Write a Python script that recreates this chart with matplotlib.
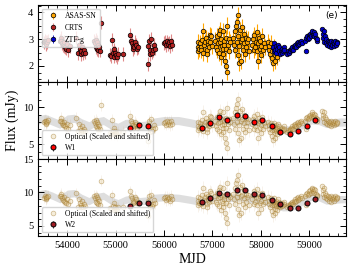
import matplotlib
matplotlib.use("Agg")
import matplotlib.pyplot as plt
import matplotlib.ticker as tkr
import numpy as np

plt.rcParams["font.family"] = ["Liberation Serif", "DejaVu Serif"]
plt.rcParams["mathtext.fontset"] = "stix"

# ---- top panel: optical light curves (MJD, flux in mJy) ----
crts_mjd = [53520, 53540, 53555, 53565, 53570, 53585, 53600,
            53850, 53870, 53880, 53890, 53910, 53930, 53940, 53950, 53970, 53990, 54010, 54060,
            54190,
            54230, 54250, 54270, 54280, 54290, 54300, 54320, 54340, 54360,
            54560, 54575, 54590, 54600, 54615, 54620, 54630, 54645, 54660, 54680, 54700,
            54890, 54910, 54930, 54950, 54960, 54970, 54990, 55010, 55030, 55050,
            55160,
            55300, 55320, 55340, 55350, 55360, 55380, 55400, 55420, 55440, 55460,
            55660, 55680, 55700, 55705, 55720, 55740, 55760, 55780, 55800, 55820,
            56000, 56020, 56040, 56060, 56080, 56100, 56120, 56140, 56160]
crts_flux = [2.88, 2.95, 2.85, 2.82, 2.92, 2.90, 2.96,
             2.95, 3.05, 2.95, 2.85, 2.78, 2.90, 2.75, 2.70, 2.65, 2.82, 2.60, 2.75,
             3.06,
             2.48, 2.80, 2.65, 2.45, 2.55, 2.72, 2.48, 2.58, 2.50,
             2.95, 2.85, 2.70, 2.98, 2.62, 2.90, 2.80, 2.60, 2.72, 2.57, 3.62,
             2.42, 2.38, 2.98, 2.50, 2.62, 2.35, 2.48, 2.40, 2.33, 2.45,
             2.45,
             3.15, 2.95, 2.85, 2.62, 2.75, 2.70, 2.90, 2.80, 2.65, 2.70,
             2.08, 2.75, 2.95, 2.45, 2.60, 3.00, 2.50, 2.58, 2.78, 2.65,
             2.85, 2.90, 2.78, 2.92, 2.82, 2.88, 2.75, 2.95, 2.80]

asas_mjd = [56700, 56705, 56712, 56725, 56740, 56760, 56770, 56780, 56800, 56810, 56830, 56850,
            56870, 56880, 56890, 56900, 56920, 56940, 56950, 56960, 56980, 57000,
            57060, 57075, 57090, 57100, 57115, 57130, 57140, 57150, 57155, 57170, 57185, 57200,
            57210, 57215, 57230, 57245, 57250, 57260, 57275, 57285, 57290, 57295, 57305, 57320,
            57335, 57350, 57365,
            57430, 57445, 57460, 57475, 57490, 57500, 57505, 57520, 57525, 57540, 57555, 57560,
            57570, 57585, 57600, 57610, 57615, 57630, 57645, 57660, 57675, 57690, 57705, 57720,
            57740, 57755,
            57820, 57840, 57855, 57870, 57885, 57900, 57915, 57930, 57945, 57950, 57960, 57975,
            57990, 58000, 58005, 58020, 58040, 58060, 58080,
            58150, 58165, 58180, 58195, 58210, 58225, 58240, 58255, 58270, 58285, 58300, 58320,
            58340, 58380]
asas_flux = [2.72, 2.55, 2.90, 2.62, 2.85, 2.70, 2.58, 2.98, 3.32, 2.50, 2.78, 2.90,
             3.05, 2.60, 2.45, 2.82, 2.95, 2.70, 3.15, 2.88, 3.10, 2.75,
             2.95, 2.70, 3.10, 2.60, 2.85, 3.20, 2.50, 3.35, 2.90, 3.00, 2.35, 2.75,
             2.45, 3.30, 2.65, 2.95, 2.80, 2.20, 3.05, 2.00, 2.62, 1.77, 3.51, 2.80,
             3.00, 2.55, 2.90,
             3.05, 2.80, 3.30, 2.60, 3.50, 3.65, 2.90, 2.40, 3.89, 3.10, 2.75, 2.10,
             3.35, 2.95, 2.20, 3.45, 3.00, 2.60, 3.20, 2.85, 2.45, 3.05, 2.70, 2.90,
             3.00, 2.55,
             2.80, 3.00, 2.60, 3.15, 2.70, 2.90, 3.25, 2.55, 2.85, 2.20, 3.05, 2.65,
             2.95, 2.40, 2.75, 3.10, 2.60, 2.85, 2.70,
             2.90, 2.60, 2.75, 2.45, 2.85, 2.30, 2.55, 2.10, 2.70, 2.40, 2.20, 2.60,
             2.35, 2.50]

ztf_mjd = [58250, 58265, 58280, 58295, 58310, 58325, 58340, 58355, 58370, 58385, 58400, 58415,
           58430, 58445, 58460, 58475, 58490,
           58550, 58565, 58580, 58595, 58610, 58625, 58640, 58655, 58670, 58685, 58700, 58715,
           58730, 58745, 58760, 58775, 58790, 58810, 58830, 58850,
           58920, 58935, 58945, 58960, 58975, 58990, 59005, 59020, 59035, 59050, 59065, 59080,
           59095, 59110, 59125, 59140, 59155, 59170,
           59270, 59280, 59295, 59300, 59310, 59325, 59340, 59355, 59370, 59385, 59400, 59415,
           59430, 59445, 59460, 59475, 59490, 59505, 59520, 59535, 59550, 59565, 59580]
ztf_flux = [2.70, 2.55, 2.85, 2.60, 2.75, 2.50, 2.65, 2.80, 2.55, 2.70, 2.45, 2.60,
            2.50, 2.65, 2.55, 2.70, 2.60,
            2.45, 2.55, 2.50, 2.60, 2.55, 2.65, 2.60, 2.70, 2.60, 2.75, 2.70, 2.80,
            2.72, 2.85, 2.78, 2.90, 2.82, 2.88, 2.95, 2.85,
            2.95, 3.05, 2.57, 3.10, 3.00, 3.15, 3.05, 3.20, 3.10, 3.25, 3.30, 3.15,
            3.25, 3.10, 3.20, 3.05, 2.95, 3.00,
            3.38, 3.20, 3.05, 3.30, 2.90, 3.10, 2.85, 3.00, 2.80, 2.95, 2.75, 2.90,
            2.85, 2.70, 2.95, 2.80, 2.90, 2.75, 2.85, 2.95, 2.80, 2.90, 2.85]

crts_err, asas_err, ztf_err = 0.25, 0.3, 0.05

# ---- WISE points ----
w1_mjd = [55300, 55490, 55670, 56780, 56955, 57140, 57305, 57500, 57670, 57865,
          58035, 58240, 58400, 58600, 58765, 58965, 59130]
w1_flux = [7.16, 7.60, 7.50, 7.16, 7.84, 8.65, 8.34, 8.92, 8.88, 7.97,
           8.34, 7.43, 6.67, 6.40, 6.76, 7.43, 8.34]
w2_mjd = w1_mjd
w2_flux = [8.03, 8.48, 8.38, 8.64, 9.14, 9.90, 9.80, 10.30, 10.30, 9.75,
           9.65, 8.83, 8.23, 7.62, 7.73, 8.38, 9.10]

# optical scaled and shifted onto W1 / W2 (scale, shift)
w1_scale, w1_shift = 3.13, -1.04
w2_scale, w2_shift = 3.41, -0.58

# ---- model band (centre, half width) ----
band_mjd = [53400, 53550, 53700, 53850, 54000, 54150, 54300, 54450, 54600, 54750,
            54900, 55050, 55200, 55350, 55500, 55650, 55800, 56000, 56300, 56550,
            56750, 56900, 57050, 57200, 57400, 57600, 57800, 58000, 58150, 58300,
            58450, 58600, 58750, 58900, 59050, 59200, 59350, 59500, 59650, 59750]
band_w1 = [8.3, 8.5, 8.1, 7.7, 8.4, 8.5, 7.9, 7.5, 8.0, 8.2,
           7.6, 7.3, 7.8, 7.9, 7.5, 7.6, 8.0, 8.2, 8.2, 7.9,
           7.6, 7.8, 8.2, 8.3, 8.1, 8.2, 8.0, 8.0, 7.7, 7.3,
           7.0, 6.9, 7.2, 7.8, 8.3, 8.2, 7.8, 7.9, 8.0, 8.0]
band_w2 = [9.7, 9.9, 9.5, 9.0, 9.8, 9.9, 9.2, 8.7, 9.3, 9.5,
           8.8, 8.4, 8.9, 9.1, 8.7, 8.8, 9.2, 9.3, 9.2, 8.9,
           8.6, 8.8, 9.3, 9.4, 9.2, 9.3, 9.0, 8.9, 8.5, 8.1,
           7.8, 7.8, 8.1, 8.8, 9.4, 9.3, 8.8, 8.9, 9.0, 9.0]
band_half = 0.55

fig = plt.figure(figsize=(3.53, 2.70), dpi=100)
gs = fig.add_gridspec(3, 1, left=0.108, right=0.980, top=0.981, bottom=0.126, hspace=0)
ax1 = fig.add_subplot(gs[0])
ax2 = fig.add_subplot(gs[1], sharex=ax1)
ax3 = fig.add_subplot(gs[2], sharex=ax1)

ms = 3.3
ax1.errorbar(asas_mjd, asas_flux, yerr=asas_err, fmt="o", ms=ms, mfc="orange", mec="k",
             mew=0.5, ecolor="orange", elinewidth=0.8, label="ASAS-SN", zorder=3)
ax1.errorbar(crts_mjd, crts_flux, yerr=crts_err, fmt="o", ms=ms, mfc="#b22222", mec="k",
             mew=0.5, ecolor="#e08a8a", elinewidth=0.8, label="CRTS", zorder=3)
ax1.errorbar(ztf_mjd, ztf_flux, yerr=ztf_err, fmt="o", ms=ms, mfc="mediumblue", mec="k",
             mew=0.5, ecolor="mediumblue", elinewidth=0.6, label="ZTF-g", zorder=3)
ax1.set_ylim(1.4, 4.27)
ax1.yaxis.set_major_locator(tkr.MultipleLocator(1))
ax1.yaxis.set_minor_locator(tkr.AutoMinorLocator(4))
leg = ax1.legend(loc="upper left", fontsize=5.5, frameon=True, handletextpad=0.6,
                 borderpad=0.4, labelspacing=0.5)
leg.get_frame().set_edgecolor("#cccccc")
ax1.text(0.975, 0.93, "(e)", transform=ax1.transAxes, ha="right", va="top",
         fontsize=6.5, family="DejaVu Sans")

opt_mjd = crts_mjd + asas_mjd + ztf_mjd
opt_flux = np.array(crts_flux + asas_flux + ztf_flux)
opt_err = np.array([crts_err] * len(crts_mjd) + [asas_err] * len(asas_mjd)
                   + [ztf_err] * len(ztf_mjd))

panels = [(ax2, w1_scale, w1_shift, band_w1, w1_mjd, w1_flux, "red", "W1", (3.0, 13.4)),
          (ax3, w2_scale, w2_shift, band_w2, w2_mjd, w2_flux, "#a01c24", "W2", (3.5, 15.0))]
for ax, sc, sh, band, wm, wf, wc, wl, yl in panels:
    lo = [b - band_half for b in band]
    hi = [b + band_half for b in band]
    ax.fill_between(band_mjd, lo, hi, color="#c8c8c8", alpha=0.6, lw=0, zorder=1)
    ax.errorbar(opt_mjd, opt_flux * sc + sh, yerr=opt_err * sc, fmt="none",
                ecolor="#c8a878", elinewidth=0.5, alpha=0.2, zorder=1.5)
    ax.plot(opt_mjd, opt_flux * sc + sh, "o", ms=3.4, mfc=(0.85, 0.72, 0.45, 0.25),
            mec=(0.62, 0.46, 0.15, 0.5), mew=0.5, ls="none",
            label="Optical (Scaled and shifted)", zorder=2)
    ax.errorbar(wm, wf, yerr=0.08, fmt="o", ms=3.6, mfc=wc, mec="k", mew=0.7,
                ecolor="k", elinewidth=0.5, label=wl, zorder=4)
    ax.set_ylim(*yl)
    ax.yaxis.set_major_locator(tkr.MultipleLocator(5))
    ax.yaxis.set_minor_locator(tkr.AutoMinorLocator(5))
    lg = ax.legend(loc="lower left", fontsize=5.5, frameon=True, handletextpad=0.6,
                   borderpad=0.4, labelspacing=0.4)
    lg.get_frame().set_edgecolor("#cccccc")

ax1.set_xlim(53400, 59760)
ax3.xaxis.set_major_locator(tkr.MultipleLocator(1000))
ax3.xaxis.set_minor_locator(tkr.AutoMinorLocator(5))
for ax in (ax1, ax2, ax3):
    ax.tick_params(which="both", direction="in", top=True, right=True, labelsize=7.5)
    ax.tick_params(which="major", length=4, width=0.7)
    ax.tick_params(which="minor", length=2, width=0.6)
    for s in ax.spines.values():
        s.set_linewidth(0.8)
plt.setp(ax1.get_xticklabels(), visible=False)
plt.setp(ax2.get_xticklabels(), visible=False)

ax3.set_xlabel("MJD", fontsize=10, labelpad=2)
ax2.set_ylabel("Flux (mJy)", fontsize=10, labelpad=3)

fig.savefig("out.png", dpi=100)
